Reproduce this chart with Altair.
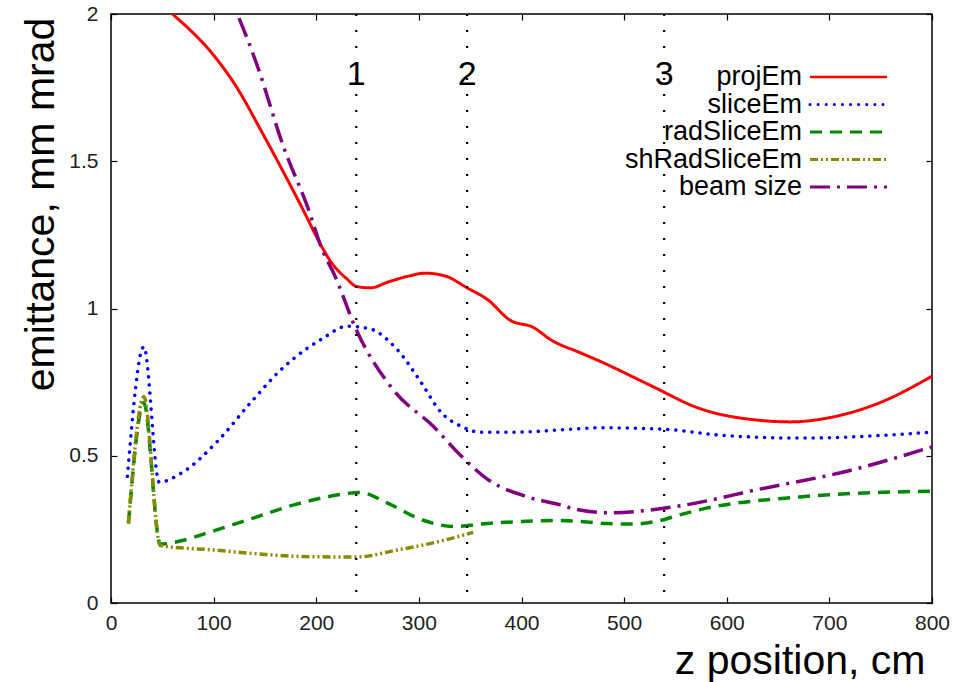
import altair as alt
import pandas as pd

# ---- data ----
proj_x = [40, 60, 100, 119, 150, 185, 207, 214, 230, 239, 253, 270, 290, 306, 326, 347, 367, 389, 412, 428, 457, 477, 525, 574, 633, 662, 701, 749, 800]
proj_y = [2.06, 2.0, 1.86, 1.77, 1.58, 1.35, 1.20, 1.16, 1.10, 1.075, 1.07, 1.09, 1.11, 1.12, 1.11, 1.07, 1.03, 0.96, 0.935, 0.895, 0.85, 0.82, 0.74, 0.66, 0.62, 0.615, 0.63, 0.68, 0.77]

slice_x = [16, 32, 47, 68, 104, 136, 168, 178, 207, 230, 253, 279, 302, 321, 341, 360, 392, 448, 477, 539, 594, 671, 800]
slice_y = [0.43, 0.87, 0.41, 0.44, 0.55, 0.68, 0.80, 0.83, 0.90, 0.94, 0.93, 0.86, 0.75, 0.65, 0.60, 0.58, 0.58, 0.59, 0.595, 0.59, 0.57, 0.56, 0.58]

rad_x = [17, 32, 48, 60, 100, 140, 180, 210, 243, 269, 305, 334, 367, 438, 483, 509, 535, 555, 574, 671, 800]
rad_y = [0.27, 0.68, 0.20, 0.205, 0.245, 0.29, 0.335, 0.36, 0.375, 0.34, 0.28, 0.26, 0.27, 0.28, 0.27, 0.268, 0.28, 0.30, 0.317, 0.36, 0.38]

shrad_x = [17, 32, 48, 100, 150, 185, 239, 279, 321, 353]
shrad_y = [0.27, 0.70, 0.195, 0.18, 0.165, 0.158, 0.156, 0.18, 0.21, 0.24]

beam_x = [110, 123, 143, 168, 191, 207, 217, 240, 276, 314, 341, 367, 406, 438, 451, 487, 535, 571, 623, 720, 800]
beam_y = [2.1, 2.0, 1.82, 1.55, 1.35, 1.19, 1.12, 0.92, 0.72, 0.60, 0.50, 0.42, 0.36, 0.333, 0.32, 0.306, 0.32, 0.34, 0.38, 0.45, 0.53]

series_names = ["projEm", "sliceEm", "radSliceEm", "shRadSliceEm", "beam size"]
series_data = [(proj_x, proj_y), (slice_x, slice_y), (rad_x, rad_y), (shrad_x, shrad_y), (beam_x, beam_y)]

marker_x = [239, 347, 539]
marker_labels = ["1", "2", "3"]

x_ticks = [0, 100, 200, 300, 400, 500, 600, 700, 800]
y_ticks = [0, 0.5, 1, 1.5, 2]

# ---- styles ----
colors = ["#ff0000", "#0000ff", "#008800", "#8a8a00", "#800080"]
dashes = [[1, 0], [0.1, 8], [12, 8], [8, 3, 2, 3, 2, 3], [20, 7, 3, 7]]
caps = ["butt", "round", "butt", "butt", "butt"]
widths = [3, 3.5, 3.5, 3.5, 3.5]

W, H = 821, 589
FONT = "Liberation Sans"

xscale = alt.Scale(domain=[0, 800], nice=False, zero=False)
yscale = alt.Scale(domain=[0, 2], nice=False, zero=False)

x_axis = alt.Axis(values=x_ticks, title="z position, cm", domain=False, ticks=False,
                  labelPadding=9, labelFontSize=21, labelFont=FONT, labelColor="#222",
                  labelFlush=False, labelOverlap=False,
                  titleFontSize=41, titleFont=FONT, titleFontWeight="normal", titleColor="#000",
                  titleX=814, titleY=70, titleAlign="right", titleBaseline="alphabetic", grid=False)
y_axis = alt.Axis(values=y_ticks, format="~g", title="emittance, mm mrad", domain=False, ticks=False,
                  labelPadding=13, labelFontSize=21, labelFont=FONT, labelColor="#222",
                  labelFlush=False, labelOverlap=False,
                  titleFontSize=41, titleFont=FONT, titleFontWeight="normal", titleColor="#000",
                  titleX=-70, titleY=190, titleAngle=270, titleAlign="center", titleBaseline="middle",
                  grid=False)

X = alt.X("x:Q", scale=xscale, axis=x_axis)
Y = alt.Y("y:Q", scale=yscale, axis=y_axis)

layers = []
for i, (name, (xs, ys)) in enumerate(zip(series_names, series_data)):
    df = pd.DataFrame({"x": xs, "y": ys})
    layers.append(
        alt.Chart(df).mark_line(clip=True, color=colors[i], strokeDash=dashes[i],
                                strokeCap=caps[i], strokeWidth=widths[i],
                                interpolate="monotone").encode(x=X, y=Y)
    )

mdf = pd.DataFrame({"x": marker_x, "label": marker_labels})
layers.append(alt.Chart(mdf).mark_rule(color="black", strokeWidth=2.2, strokeDash=[2, 14])
              .encode(x=X))
layers.append(alt.Chart(mdf).mark_text(font=FONT, fontSize=34, color="black", baseline="middle")
              .encode(x=X, y=alt.value(61), text="label:N"))

# legend (top right inside the plot)
for i, name in enumerate(series_names):
    row = 63 + i * 27.5
    ldf = pd.DataFrame({"name": [name]})
    layers.append(alt.Chart(ldf).mark_text(font=FONT, fontSize=27, align="right", baseline="middle",
                                           color="black")
                  .encode(text="name:N", x=alt.value(691), y=alt.value(row)))
    layers.append(alt.Chart(ldf).mark_rule(color=colors[i], strokeDash=dashes[i], strokeCap=caps[i],
                                           strokeWidth=widths[i] - 0.5)
                  .encode(x=alt.value(699), x2=alt.value(776), y=alt.value(row)))

main = alt.layer(*layers)

# inward tick marks on all four sides
tdf = pd.DataFrame({"x": [0, 800], "y": [0, 2]})
tick_common = dict(labels=False, domain=False, ticks=True, tickSize=6, tickColor="#000",
                   tickWidth=1.2, title=None, grid=False)
ticks_a = alt.Chart(tdf).mark_point(opacity=0).encode(
    x=alt.X("x:Q", scale=xscale, axis=alt.Axis(orient="top", offset=-H, values=x_ticks, **tick_common)),
    y=alt.Y("y:Q", scale=yscale, axis=alt.Axis(orient="right", offset=-W, values=y_ticks, **tick_common)),
)
ticks_b = alt.Chart(tdf).mark_point(opacity=0).encode(
    x=alt.X("x:Q", scale=xscale, axis=alt.Axis(orient="bottom", offset=-H, values=x_ticks, **tick_common)),
    y=alt.Y("y:Q", scale=yscale, axis=alt.Axis(orient="left", offset=-W, values=y_ticks, **tick_common)),
)

chart = alt.layer(main, ticks_a, ticks_b).resolve_scale(x="independent", y="independent").properties(
    width=W, height=H,
    autosize=alt.AutoSizeParams(type="none"),
    padding={"left": 111, "top": 14, "right": 39, "bottom": 79},
    background="white",
).configure_view(stroke="#000", strokeWidth=1.5)

chart.save("out.html", embed_options={"renderer": "svg", "actions": False})
